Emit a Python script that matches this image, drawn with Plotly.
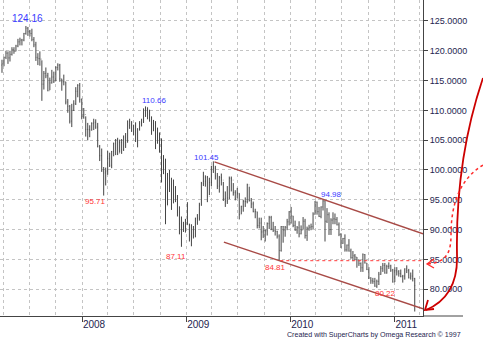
import plotly.graph_objects as go
import pandas as pd

# ---------------- data (weekly USD/JPY bars) ----------------
first_week = "2007-03-26"

high_2007 = [118.5, 119.0, 120.0, 119.9, 120.0, 120.6, 120.6, 121.0, 122.0, 122.2,
             122.0, 123.0, 124.16, 124.0, 123.5, 123.7, 122.3, 121.5, 119.6, 119.9,
             118.4, 116.6, 117.2, 116.3, 115.5, 116.8, 116.5, 117.4, 117.9, 117.8,
             115.3, 116.0, 114.8, 111.9, 110.9, 111.1, 111.7, 113.9, 114.4, 114.6]
low_2007 = [116.3, 117.4, 118.6, 117.8, 118.2, 119.2, 119.5, 119.9, 120.6, 120.9,
            120.9, 121.6, 122.7, 122.5, 122.4, 121.6, 120.6, 118.3, 117.6, 117.5,
            111.6, 113.5, 115.4, 113.2, 113.4, 114.5, 114.6, 114.9, 116.7, 114.8,
            113.3, 114.2, 111.0, 109.6, 107.8, 107.2, 109.9, 110.9, 112.2, 111.3]
close_2007 = [117.8, 118.9, 119.6, 118.8, 119.4, 120.2, 119.9, 120.8, 121.5, 121.8,
              121.8, 122.9, 123.8, 123.2, 122.9, 121.9, 121.0, 118.9, 118.7, 118.6,
              114.4, 116.2, 115.8, 113.3, 114.6, 115.6, 114.9, 117.2, 117.6, 115.3,
              114.8, 114.8, 111.4, 110.7, 108.2, 110.0, 111.1, 113.2, 114.2, 111.8]

high_2008 = [112.0, 110.4, 109.0, 107.9, 107.5, 108.0, 108.6, 108.5, 107.9, 104.2,
             103.6, 100.5, 100.4, 103.2, 102.9, 103.2, 104.6, 105.2, 105.4, 105.1,
             105.2, 105.8, 106.2, 108.3, 108.6, 108.2, 107.6, 108.0, 107.0, 108.2,
             108.6, 110.3, 110.66, 110.5, 110.1, 109.0, 108.4, 108.2, 107.1, 106.3,
             105.3, 102.5, 101.9, 99.5, 100.0, 98.7, 98.4, 97.3, 95.8, 93.9,
             92.2, 91.3, 91.8]
low_2008 = [108.5, 108.6, 105.6, 104.97, 105.5, 106.6, 106.7, 106.9, 103.8, 101.5,
            99.7, 95.71, 97.4, 99.2, 100.5, 100.3, 102.3, 102.5, 102.5, 102.9,
            102.7, 103.2, 103.7, 104.6, 106.9, 106.4, 105.8, 104.7, 103.8, 106.6,
            107.3, 107.9, 108.9, 108.5, 108.1, 105.9, 106.5, 103.5, 104.4, 102.9,
            97.9, 99.3, 90.9, 94.1, 96.3, 93.3, 94.4, 94.6, 92.2, 89.2,
            87.11, 89.6, 89.5]
close_2008 = [108.9, 109.3, 106.8, 106.8, 106.7, 107.8, 108.0, 107.2, 103.9, 102.4,
              99.8, 99.5, 99.8, 101.9, 100.8, 103.1, 104.4, 105.0, 102.8, 104.6,
              103.4, 105.5, 104.6, 108.2, 107.5, 106.5, 107.4, 104.8, 106.9, 107.8,
              108.0, 110.3, 110.5, 110.0, 108.8, 107.8, 107.8, 107.0, 106.0, 105.0,
              100.1, 101.3, 94.0, 98.6, 98.1, 96.8, 95.2, 95.5, 92.9, 91.0,
              89.9, 90.5, 91.0]

high_2009 = [94.6, 91.0, 90.9, 90.6, 92.0, 92.6, 94.5, 98.0, 99.7, 99.1,
             99.0, 98.7, 100.7, 101.45, 100.7, 99.5, 99.0, 99.4, 98.0, 96.4,
             97.3, 98.9, 98.9, 97.8, 96.6, 97.0, 96.1, 94.0, 95.0, 95.4,
             97.7, 97.2, 95.3, 94.7, 93.5, 93.0, 92.0, 92.0, 90.6, 90.0,
             91.2, 92.3, 92.3, 91.3, 90.6, 89.8, 89.2, 90.6, 90.6, 90.6,
             91.8, 93.1]
low_2009 = [90.8, 88.0, 87.2, 88.5, 88.7, 90.8, 91.5, 94.0, 97.3, 97.2,
            94.6, 95.8, 97.3, 99.5, 98.4, 96.8, 96.2, 97.4, 94.8, 93.8,
            94.3, 95.1, 96.4, 95.7, 94.9, 95.3, 91.7, 92.6, 93.0, 93.8,
            94.4, 94.7, 93.6, 92.9, 91.9, 90.2, 90.2, 88.2, 88.6, 88.0,
            89.0, 90.1, 89.9, 89.6, 89.0, 88.5, 84.81, 86.3, 87.8, 88.8,
            89.9, 90.7]
close_2009 = [90.8, 90.7, 88.9, 89.9, 91.9, 91.9, 94.1, 97.7, 98.1, 98.8,
              95.6, 97.9, 100.6, 100.3, 99.0, 97.3, 98.7, 98.3, 95.2, 94.8,
              95.3, 98.6, 98.3, 96.2, 95.2, 96.1, 92.5, 93.9, 94.7, 94.7,
              97.5, 94.9, 94.3, 93.0, 93.0, 90.7, 91.1, 89.6, 89.8, 89.8,
              91.0, 92.0, 90.1, 89.9, 89.7, 88.9, 86.5, 90.5, 89.9, 90.4,
              91.3, 93.0]

high_2010 = [93.8, 92.3, 91.5, 90.6, 91.4, 90.7, 92.1, 91.8, 90.5, 90.8,
             91.0, 92.9, 94.8, 94.7, 93.8, 93.9, 94.98, 94.9, 93.6, 92.9,
             91.9, 92.9, 92.7, 92.1, 91.2, 89.4, 88.6, 89.2, 87.5, 88.4,
             86.8, 86.4, 85.9, 85.4, 85.0, 84.5, 86.0, 85.9, 84.4, 83.7,
             82.0, 81.9, 81.9, 81.6, 82.9, 83.9, 84.4, 84.4, 84.1, 84.5,
             84.1, 83.4]
low_2010 = [91.0, 90.4, 89.8, 89.3, 88.7, 89.2, 90.0, 88.5, 88.1, 89.8,
            89.9, 90.1, 92.5, 92.5, 92.1, 91.9, 93.2, 88.0, 91.1, 89.1,
            89.1, 90.9, 90.9, 90.7, 88.9, 86.9, 87.6, 86.3, 86.3, 86.3,
            85.1, 84.7, 84.9, 83.6, 83.9, 82.9, 82.9, 84.3, 83.2, 81.7,
            80.9, 80.9, 80.4, 80.22, 80.7, 82.4, 82.9, 82.6, 82.6, 83.4,
            82.9, 81.1]
close_2010 = [92.3, 90.7, 89.9, 90.3, 89.3, 89.9, 91.4, 89.0, 90.2, 90.4,
              90.5, 92.6, 94.6, 93.0, 92.2, 93.8, 94.8, 91.4, 92.5, 90.0,
              91.6, 91.8, 91.7, 90.8, 89.2, 87.7, 88.5, 86.6, 87.4, 86.4,
              85.3, 85.6, 85.4, 84.9, 84.3, 83.6, 85.8, 84.4, 83.3, 81.9,
              81.4, 81.3, 80.5, 81.3, 82.5, 83.5, 84.0, 82.7, 83.8, 83.9,
              83.2, 81.2]

high_2011 = [83.7, 83.7, 83.2, 83.3, 82.4, 83.5, 84.0, 83.4, 82.8, 83.3, 81.9]
low_2011 = [81.2, 82.3, 82.1, 82.0, 81.1, 81.6, 82.7, 81.8, 81.6, 81.3, 76.25]
close_2011 = [83.1, 82.9, 82.6, 82.1, 82.2, 83.4, 83.1, 81.9, 82.2, 81.8, 80.6]

highs = high_2007 + high_2008 + high_2009 + high_2010 + high_2011
lows = low_2007 + low_2008 + low_2009 + low_2010 + low_2011
closes = close_2007 + close_2008 + close_2009 + close_2010 + close_2011
opens = [117.6] + closes[:-1]
dates = pd.date_range(first_week, periods=len(highs), freq="W-MON")

# swing labels
label_dates = ["2007-06-18", "2008-08-11", "2009-04-06", "2010-04-26",
               "2008-03-17", "2008-12-15", "2009-11-23", "2010-11-01"]
label_values = [124.16, 110.66, 101.45, 94.98, 95.71, 87.11, 84.81, 80.22]
label_kind = ["high", "high", "high", "high", "low", "low", "low", "low"]

# channel / support lines
upper_channel_dates = ["2009-04-10", "2011-04-12"]
upper_channel_values = [101.35, 89.3]
lower_channel_dates = ["2009-05-13", "2011-04-12"]
lower_channel_values = [87.9, 76.7]
support_dates = ["2009-11-27", "2011-04-12"]
support_values = [84.78, 84.78]

year_ticks = ["2008-01-01", "2009-01-01", "2010-01-01", "2011-01-01"]
year_labels = ["2008", "2009", "2010", "2011"]
price_ticks = [80, 85, 90, 95, 100, 105, 110, 115, 120, 125]
price_labels = [f"{v}.0000" for v in price_ticks]

# ---------------- style ----------------
FONT = "Liberation Sans, Arial, sans-serif"
AXIS_TEXT = "#25254f"
GRID = "#c4c4c4"
W, H = 483, 363
ML, MR, MT, MB = 0, 60, 0, 47
PW, PH = W - ML - MR, H - MT - MB


def pp(x, y):
    """pixel -> paper coordinates string (for decorative drawing)"""
    return f"{(x - ML) / PW:.4f},{(MT + PH - y) / PH:.4f}"


fig = go.Figure()
fig.add_trace(go.Ohlc(
    x=dates, open=opens, high=highs, low=lows, close=closes,
    increasing=dict(line=dict(color="#454545", width=1)),
    decreasing=dict(line=dict(color="#454545", width=1)),
    tickwidth=0.2, showlegend=False, hoverinfo="skip"))

fig.add_trace(go.Scatter(x=upper_channel_dates, y=upper_channel_values, mode="lines",
                         line=dict(color="#a84a46", width=1.4), showlegend=False,
                         hoverinfo="skip"))
fig.add_trace(go.Scatter(x=lower_channel_dates, y=lower_channel_values, mode="lines",
                         line=dict(color="#a84a46", width=1.4), showlegend=False,
                         hoverinfo="skip"))
fig.add_trace(go.Scatter(x=support_dates, y=support_values, mode="lines",
                         line=dict(color="#ff3a3a", width=1, dash="dot"),
                         showlegend=False, hoverinfo="skip"))

label_style = {
    124.16: dict(xshift=2, yshift=0, size=10),
    110.66: dict(xshift=8, yshift=-1, size=8),
    101.45: dict(xshift=-7, yshift=-3, size=8),
    94.98: dict(xshift=8, yshift=-1, size=8),
    95.71: dict(xshift=-8, yshift=1, size=8),
    87.11: dict(xshift=-5, yshift=-3, size=8),
    84.81: dict(xshift=-4, yshift=0, size=8),
    80.22: dict(xshift=9, yshift=1, size=8),
}
for d, v, k in zip(label_dates, label_values, label_kind):
    st = label_style[v]
    fig.add_annotation(
        x=d, y=v, text=f"{v:.2f}", showarrow=False,
        xanchor="center", yanchor="bottom" if k == "high" else "top",
        xshift=st["xshift"], yshift=st["yshift"],
        font=dict(family=FONT, size=st["size"],
                  color="#3b3bff" if k == "high" else "#ff3636"))

fig.add_annotation(
    xref="paper", yref="paper", x=(463 - ML) / PW, y=(MT + PH - 335) / PH,
    xanchor="right", yanchor="middle", showarrow=False,
    text="Created with SuperCharts by Omega Research \u00a9 1997",
    font=dict(family=FONT, size=7.1, color=AXIS_TEXT))

shapes = [
    # x-axis line extension under the price scale
    dict(type="line", xref="paper", yref="paper", x0=1, x1=(463 - ML) / PW, y0=0, y1=0,
         line=dict(color="#444444", width=1)),
    # hand-drawn solid arrow
    dict(type="path", xref="paper", yref="paper",
         path=f"M {pp(483, 78)} C {pp(462, 140)} {pp(456, 200)} {pp(457, 255)} "
              f"C {pp(458, 285)} {pp(445, 302)} {pp(426, 310)}",
         line=dict(color="#cc0000", width=1.8)),
    dict(type="path", xref="paper", yref="paper",
         path=f"M {pp(428, 300)} L {pp(425, 310)} L {pp(434, 309)}",
         line=dict(color="#cc0000", width=1.8)),
    # hand-drawn dotted arrow
    dict(type="path", xref="paper", yref="paper",
         path=f"M {pp(483, 165)} C {pp(462, 178)} {pp(451, 200)} {pp(451, 235)} "
              f"C {pp(451, 255)} {pp(445, 262)} {pp(428, 264)}",
         line=dict(color="#ff2a2a", width=1.5, dash="dot")),
    dict(type="path", xref="paper", yref="paper",
         path=f"M {pp(434, 259)} L {pp(427, 264)} L {pp(434, 268)}",
         line=dict(color="#ff2a2a", width=1.3)),
]

fig.update_layout(
    width=W, height=H,
    margin=dict(l=ML, r=MR, t=MT, b=MB),
    paper_bgcolor="white", plot_bgcolor="white",
    font=dict(family=FONT, color=AXIS_TEXT),
    showlegend=False,
    shapes=shapes,
    xaxis=dict(
        type="date", range=["2007-03-19", "2011-04-12"],
        rangeslider=dict(visible=False),
        tickmode="array", tickvals=year_ticks, ticktext=year_labels,
        ticks="outside", ticklen=5, tickcolor="#444444",
        ticklabelshift=12, ticklabelstandoff=-6,
        tickfont=dict(family=FONT, size=10, color=AXIS_TEXT),
        showline=True, linecolor="#444444", linewidth=1,
        showgrid=True, gridcolor=GRID, griddash="dot", gridwidth=1,
        minor=dict(dtick="M3", tick0="2007-01-01", showgrid=True, gridcolor=GRID,
                   griddash="dot", gridwidth=1, ticks=""),
        zeroline=False, fixedrange=True),
    yaxis=dict(
        side="right", range=[75.5, 128.52],
        tickmode="array", tickvals=price_ticks, ticktext=price_labels,
        ticks="outside", ticklen=4, tickcolor="#444444",
        tickfont=dict(family=FONT, size=9, color=AXIS_TEXT),
        showline=True, linecolor="#444444", linewidth=1,
        showgrid=True, gridcolor=GRID, griddash="dot", gridwidth=1,
        zeroline=False, fixedrange=True),
)

fig.write_html("out.html", config={"displayModeBar": False},
               post_script="document.body.style.margin='0';")
